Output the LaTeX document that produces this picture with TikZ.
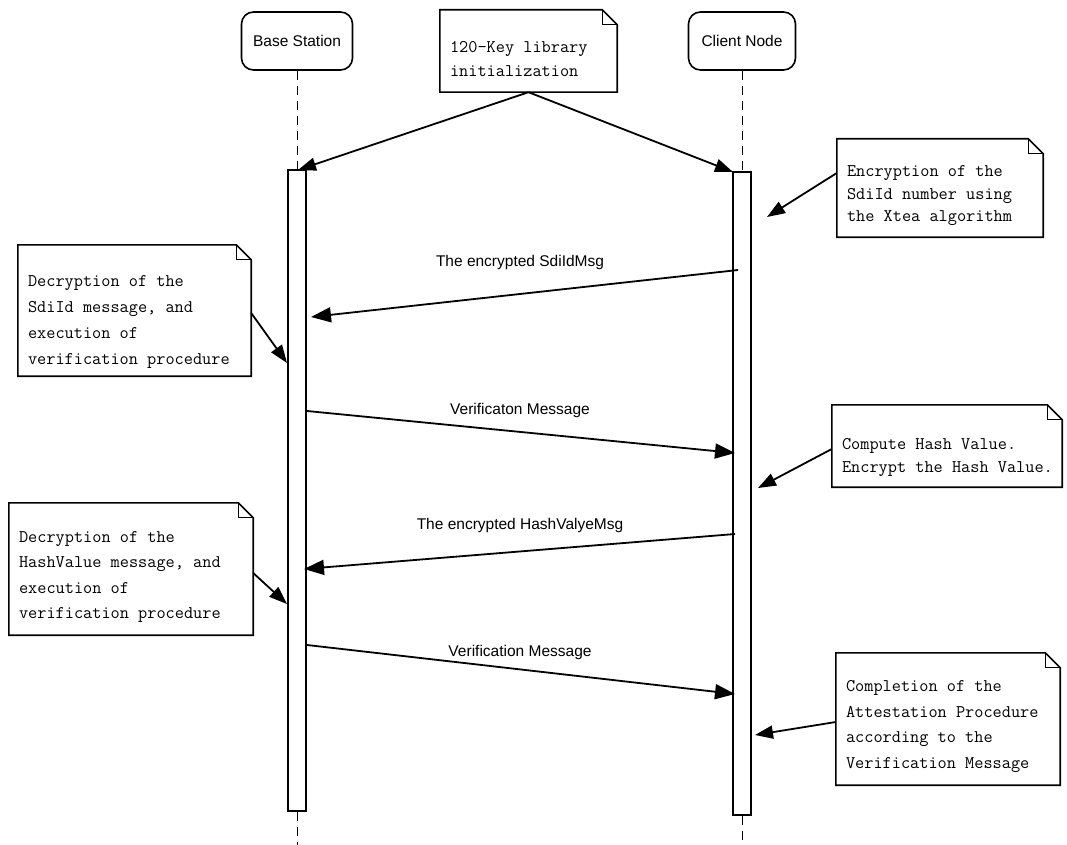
\documentclass[tikz,border=0pt]{standalone}
\usepackage{fontspec}
\setmainfont{Liberation Sans}
\usetikzlibrary{arrows.meta,calc}

% #1 name, #2 x, #3 y, #4 width, #5 height, #6 text drop, #7 line spacing, #8 text
\newcommand\dognote[8]{%
  \node[notebg,minimum width=#4pt,minimum height=#5pt] (#1) at (#2,#3) {};
  \node[notetext,font=\ttfamily\fontsize{17.8}{#7}\selectfont,anchor=west]
     (#1txt) at ($(#1.west)+(10,#6)$) {#8};
  \draw[outline] (#1.north west) -- ($(#1.north east)+(-15,0)$)
     -- ($(#1.north east)+(0,15)$) -- (#1.south east) -- (#1.south west) -- cycle;
  \draw[fold] ($(#1.north east)+(-15,0)$) |- ($(#1.north east)+(0,15)$);
}

\begin{document}
\begin{tikzpicture}[x=1pt,y=-1pt,
  header/.style={draw,line width=1.6pt,rounded corners=12pt,inner sep=0pt,
                 font=\fontsize{15.5}{18}\selectfont},
  actbar/.style={draw,line width=1.6pt,fill=white,inner sep=0pt,minimum width=18pt},
  lifeline/.style={line width=0.9pt,dash pattern=on 9pt off 6pt},
  notebg/.style={inner sep=0pt,draw=none},
  notetext/.style={inner sep=0pt,align=left},
  outline/.style={line width=1.6pt,line join=miter},
  fold/.style={line width=1.1pt},
  msg/.style={line width=1.8pt,-{Triangle[length=20pt,width=15pt]}},
  pointer/.style={line width=1.8pt,-{Triangle[length=18pt,width=13pt]}},
  msglabel/.style={inner sep=0pt,font=\fontsize{15.5}{18}\selectfont}
]
\useasboundingbox (0,0) rectangle (1067,845);
\fill[white] (0,0) rectangle (1067,845);

% participants
\node[header,minimum width=111pt,minimum height=58pt] (bs) at (297,41) {Base Station};
\node[header,minimum width=107pt,minimum height=58pt] (cn) at (742,41) {Client Node};

% lifeline ends at the bottom edge
\coordinate (bsend) at (297,845);
\coordinate (cnend) at (742,845);

% activation bars
\node[actbar,minimum height=641pt] (bsbar) at (297,490.5) {};
\node[actbar,minimum height=643pt] (cnbar) at (742,493.5) {};

% dashed lifelines, bars redrawn on top
\draw[lifeline] (bs.south) -- (bsbar.north);
\draw[lifeline] (bsbar.south) -- (bsend);
\draw[lifeline] (cn.south) -- (cnbar.north);
\draw[lifeline] (cnbar.south) -- (cnend);
\node[actbar,minimum height=641pt] at (bsbar) {};
\node[actbar,minimum height=643pt] at (cnbar) {};

% notes
\dognote{lib}{528.5}{51}{177}{82}{8}{24}{120-Key library\\initialization}
\dognote{enc}{940}{188}{206}{98}{8}{22.5}{Encryption of the\\SdiId number using\\the Xtea algorithm}
\dognote{decA}{134.5}{310.5}{233}{131}{11}{26}{Decryption of the\\SdiId message, and\\execution of\\verification procedure}
\dognote{hash}{947}{446}{230}{82}{11}{23}{Compute Hash Value.\\Encrypt the Hash Value.}
\dognote{decB}{131}{569}{244}{132}{8}{25.5}{Decryption of the\\HashValue message, and\\execution of\\verification procedure}
\dognote{done}{948}{719}{224}{132}{7.5}{25.5}{Completion of the\\Attestation Procedure\\according to the\\Verification Message}

% points on the activation bars reached by the note pointers
\coordinate (libBs) at (298,170);
\coordinate (libCn) at (733,172);
\coordinate (encTip) at (767,217);
\coordinate (decATip) at (287,363);
\coordinate (hashTip) at (758,488);
\coordinate (decBTip) at (287,604);
\coordinate (doneTip) at (755,735);

\draw[pointer] (lib.south) -- (libBs);
\draw[pointer] (lib.south) -- (libCn);
\draw[pointer] ($(enc.west)+(0,-15)$) -- (encTip);
\draw[pointer] ($(decA.east)+(0,2.5)$) -- (decATip);
\draw[pointer] ($(hash.west)+(0,3)$) -- (hashTip);
\draw[pointer] ($(decB.east)+(0,4)$) -- (decBTip);
\draw[pointer] ($(done.west)+(0,3)$) -- (doneTip);

% message end points
\coordinate (m1a) at (738,270); \coordinate (m1b) at (311,317);
\coordinate (m2a) at (307,411); \coordinate (m2b) at (735,453);
\coordinate (m3a) at (735,534); \coordinate (m3b) at (304,569);
\coordinate (m4a) at (307,645); \coordinate (m4b) at (735,694);

\draw[msg] (m1a) -- (m1b);
\draw[msg] (m2a) -- (m2b);
\draw[msg] (m3a) -- (m3b);
\draw[msg] (m4a) -- (m4b);

\node[msglabel] (l1) at (520,262) {The encrypted SdiIdMsg};
\node[msglabel] (l2) at (520,410) {Verificaton Message};
\node[msglabel] (l3) at (520,525) {The encrypted HashValyeMsg};
\node[msglabel] (l4) at (520,652) {Verification Message};
\end{tikzpicture}
\end{document}
